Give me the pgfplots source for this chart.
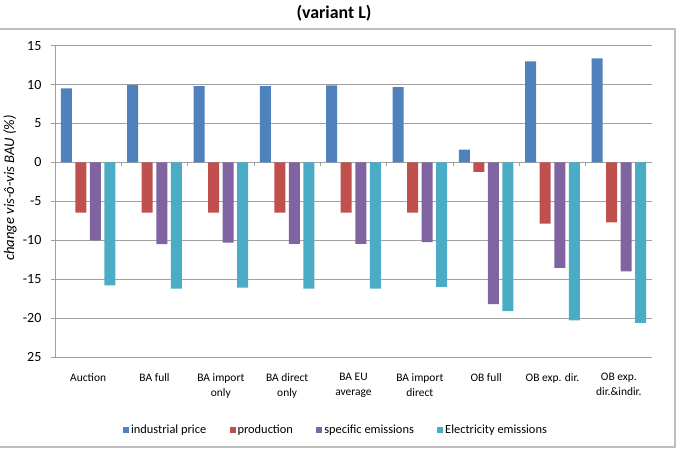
\documentclass[border=0pt]{standalone}
\usepackage{fontspec}
\setmainfont{Carlito}
\usepackage{pgfplots}
\usepackage{pgfplotstable}
\pgfplotsset{compat=1.18}

\definecolor{cBlue}{RGB}{79,129,189}
\definecolor{cRed}{RGB}{192,80,77}
\definecolor{cPurple}{RGB}{128,100,162}
\definecolor{cCyan}{RGB}{75,172,198}
\definecolor{gridgray}{RGB}{160,160,160}
\definecolor{framegray}{RGB}{190,190,190}

% change vs. BAU (%) per allocation scenario
\pgfplotstableread{
x price  prod   spec    elec
0 9.50   -6.45  -10.00  -15.80
1 9.94   -6.45  -10.50  -16.20
2 9.80   -6.45  -10.30  -16.10
3 9.80   -6.45  -10.45  -16.20
4 9.90   -6.45  -10.45  -16.20
5 9.68   -6.45  -10.25  -16.00
6 1.65   -1.20  -18.20  -19.10
7 12.98  -7.85  -13.55  -20.30
8 13.37  -7.70  -14.00  -20.60
}\scen

\begin{document}
\begin{tikzpicture}
\begin{scope}[x=0.75pt,y=-0.75pt]
  \useasboundingbox (0,0) rectangle (677,454);
  \draw[framegray, line width=1.2pt] (0,29) -- (675,29) -- (675,447) -- (0,447);
  \node[font=\bfseries\fontsize{13.4}{16}\selectfont] at (334,13) {(variant L)};
  \node[rotate=90, font=\itshape\fontsize{11}{13}\selectfont] at (10,188) {change vis-ô-vis BAU (\%)};
\end{scope}

\begin{axis}[
  at={(41.25pt,-267.75pt)}, anchor=south west,
  scale only axis, width=447.75pt, height=233.5pt,
  ybar=2.65pt, bar width=8.25pt,
  xmin=-0.5, xmax=8.5, ymin=-25, ymax=15,
  axis x line*=bottom, axis y line*=left,
  x axis line style={draw=none},
  y axis line style={gridgray, line width=0.75pt},
  tick align=outside, major tick length=3pt,
  xtick={0,...,8}, xtick style={draw=none},
  xticklabels={Auction, BA full, {BA import\\only}, {BA direct\\only}, {BA EU\\average}, {BA import\\direct}, OB full, OB exp. dir., {OB exp.\\dir.\&indir.}},
  xticklabel style={align=center, inner sep=0pt, font=\fontsize{8.6}{11.25}\selectfont, yshift=-9pt},
  ytick={-25,-20,...,15},
  yticklabels={25,-20,-15,-10,-5,0,5,10,15},
  ytick style={gridgray, line width=0.75pt},
  yticklabel style={inner sep=0pt, font=\fontsize{10.5}{12}\selectfont, xshift=-7pt},
  ymajorgrids, grid style={gridgray, line width=0.75pt},
  legend columns=4,
  legend style={at={(0.4707,-0.2345)}, anchor=center, draw=none, fill=none,
    font=\fontsize{9.3}{11}\selectfont, inner sep=0pt,
    nodes={inner sep=1.5pt},
    /tikz/every even column/.append style={column sep=16pt}},
  legend image code/.code={\fill[#1] (0pt,-2.25pt) rectangle (4.5pt,2.25pt);},
]
\addplot[fill=cBlue, draw=none] table[x=x, y=price] {\scen};
\addplot[fill=cRed, draw=none] table[x=x, y=prod] {\scen};
\addplot[fill=cPurple, draw=none] table[x=x, y=spec] {\scen};
\addplot[fill=cCyan, draw=none] table[x=x, y=elec] {\scen};
\legend{industrial price, production, specific emissions, Electricity emissions}
\pgfplotsinvokeforeach{-0.5,0.5,1.5,2.5,3.5,4.5,5.5,6.5,7.5,8.5}{
  \draw[gridgray, line width=0.75pt] (axis cs:#1,0) -- ++(0pt,-3pt);
}
\end{axis}
\end{tikzpicture}
\end{document}
